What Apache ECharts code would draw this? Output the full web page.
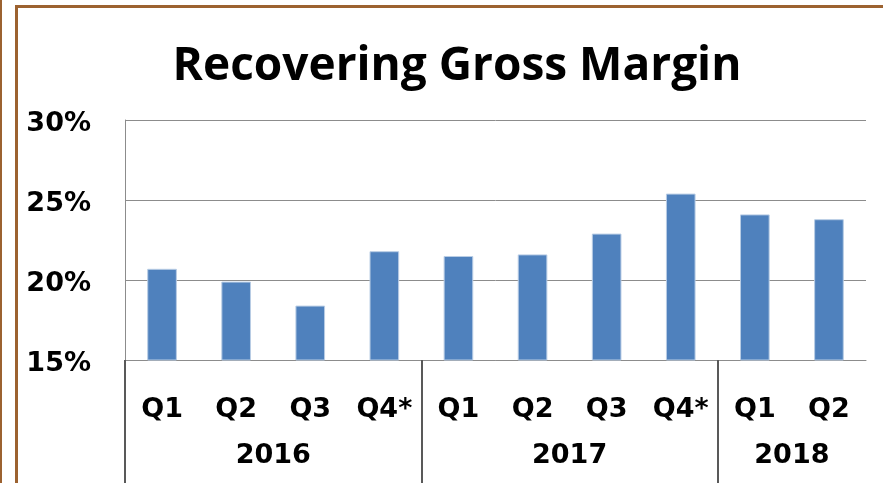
<!DOCTYPE html>
<head>
    <meta charset="utf-8">
    <title>Recovering Gross Margin</title>
    <style>
        html, body {
            width: 100%;
            height: 100%;
            margin: 0;
            background: #fff;
        }
        #main {
            width: 883px;
            height: 483px;
        }
    </style>
</head>
<body>
<div id="main"></div>
<script src="https://cdn.jsdelivr.net/npm/echarts@6/dist/echarts.min.js"></script>
<script type="text/javascript">
  // chart data
  var quarters = ['Q1', 'Q2', 'Q3', 'Q4*', 'Q1', 'Q2', 'Q3', 'Q4*', 'Q1', 'Q2'];
  var margin = [20.7, 19.9, 18.4, 21.8, 21.5, 21.6, 22.9, 25.4, 24.1, 23.8];
  // year axis runs on quarter boundaries 0..10
  var yearSlots = ['', '', '2016', '', '', '', '2017', '', '', '2018', ''];
  var yearBreaks = [0, 4, 8];

  var titleFont = 'Open Sans, DejaVu Sans, sans-serif';
  var labelFont = 'DejaVu Sans, sans-serif';
  var brown = '#9c6230';

  var myChart = echarts.init(document.getElementById('main'));

  var labelStyle = {
    fontFamily: labelFont,
    fontWeight: 'bold',
    fontSize: 27,
    color: '#000'
  };

  var option = {
    animation: false,
    title: {
      text: 'Recovering Gross Margin',
      left: 452,
      top: 39,
      textAlign: 'center',
      textStyle: {
        fontFamily: titleFont,
        fontWeight: 'bold',
        fontSize: 46,
        color: '#000'
      }
    },
    grid: {
      left: 125,
      right: 17,
      top: 120,
      bottom: 123
    },
    xAxis: [
      {
        type: 'category',
        data: quarters,
        axisLine: {lineStyle: {color: '#8c8c8c', width: 1}},
        axisTick: {show: false},
        axisLabel: Object.assign({interval: 0, margin: 36}, labelStyle)
      },
      {
        type: 'category',
        position: 'bottom',
        boundaryGap: false,
        data: yearSlots,
        axisLine: {show: false},
        axisTick: {
          show: true,
          length: 123,
          lineStyle: {color: '#595959', width: 2},
          interval: function (index) {
            return yearBreaks.indexOf(index) >= 0;
          }
        },
        axisLabel: Object.assign({interval: 0, margin: 82}, labelStyle)
      }
    ],
    yAxis: {
      type: 'value',
      min: 15,
      max: 30,
      interval: 5,
      axisLine: {show: true, lineStyle: {color: '#8c8c8c', width: 1}},
      axisTick: {show: false},
      splitLine: {lineStyle: {color: '#8c8c8c', width: 1}},
      axisLabel: {
        formatter: '{p|{value}%}',
        margin: 34,
        rich: {
          p: Object.assign({padding: [8, 0, 0, 0]}, labelStyle)
        }
      }
    },
    series: [
      {
        type: 'bar',
        data: margin,
        barWidth: '40%',
        itemStyle: {
          color: '#4f81bd',
          borderColor: '#b9cde5',
          borderWidth: 1
        }
      }
    ],
    graphic: [
      {type: 'rect', left: 0, top: 0, shape: {width: 2, height: 483}, style: {fill: brown}, silent: true},
      {type: 'rect', left: 15, top: 5, shape: {width: 3, height: 478}, style: {fill: brown}, silent: true},
      {type: 'rect', left: 15, top: 5, shape: {width: 868, height: 3}, style: {fill: brown}, silent: true}
    ]
  };

  myChart.setOption(option);
</script>
</body>
